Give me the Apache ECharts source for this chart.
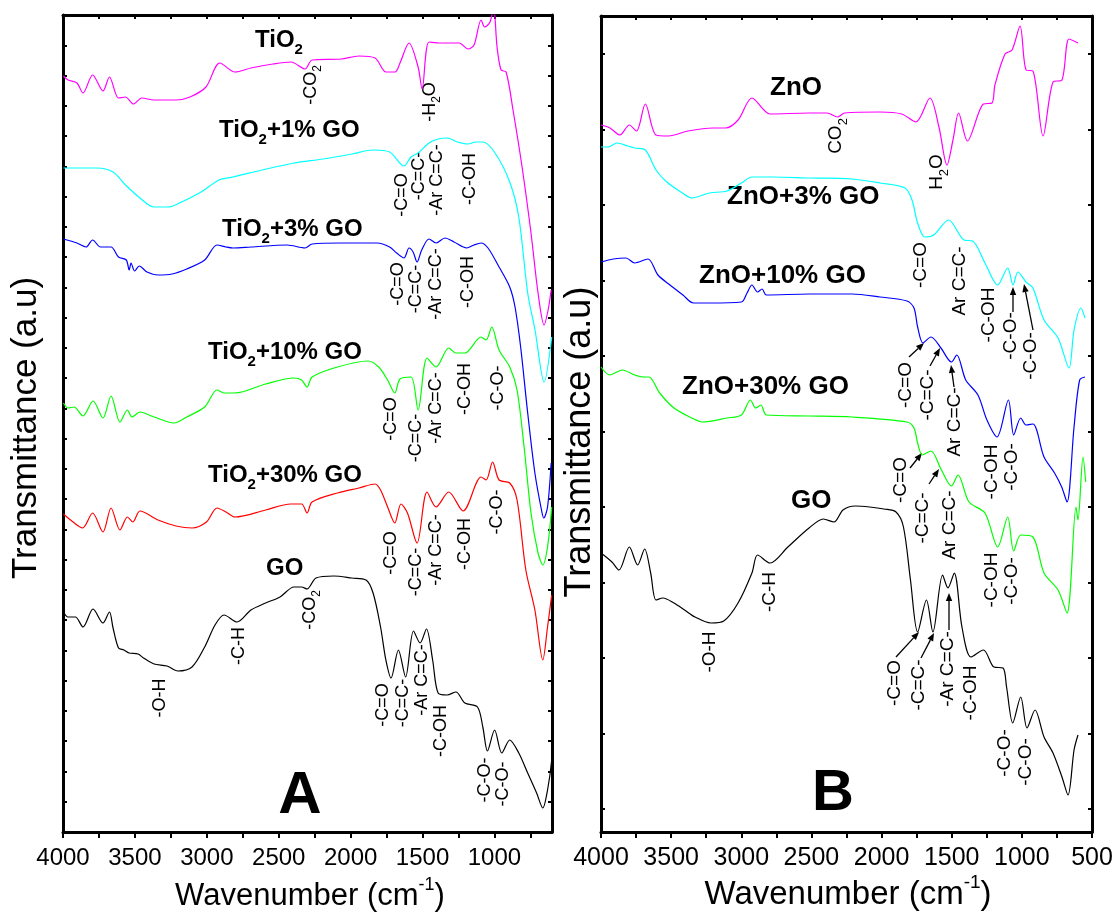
<!DOCTYPE html>
<html>
<head>
<meta charset="utf-8">
<script src="https://cdn.jsdelivr.net/npm/echarts@6/dist/echarts.min.js"></script>
<style>html,body{margin:0;padding:0;background:#fff;}#c{width:1117px;height:917px;}</style>
</head>
<body>
<div id="c"></div>
<script>
// ---------- Panel A data: [wavenumber (cm-1), transmittance (a.u., offset)] ----------
const aTiO2 = [[3997,75.6],[3965,75.2],[3903,74.9],[3861,73.9],[3794,75.7],[3722,74.1],[3677,75.5],[3614,73.4],[3565,73.5],[3510,72.8],[3452,73.4],[3367,73.2],[3214,73.2],[3117,73.5],[3006,74.5],[2910,76.9],[2804,76.0],[2693,76.4],[2540,76.8],[2414,77.0],[2317,76.3],[2268,77.2],[2067,77.3],[1942,77.6],[1830,77.4],[1754,76.0],[1691,76.0],[1657,76.9],[1594,78.9],[1531,76.5],[1503,74.3],[1455,79.0],[1378,78.9],[1246,78.9],[1184,78.3],[1142,78.7],[1093,81.2],[1068,80.5],[1031,81.0],[1006,82.5],[982,78.5],[954,76.2],[919,76.0],[871,72.2],[808,66.5],[746,59.9],[697,53.9],[655,50.7],[627,52.2],[606,54.2]];
const aTiO2GO1 = [[3997,66.4],[3864,66.4],[3764,66.4],[3652,66.0],[3565,64.7],[3465,63.4],[3367,62.5],[3265,62.5],[3190,62.9],[3040,64.0],[2915,65.2],[2818,65.5],[2616,66.2],[2394,66.9],[2192,67.3],[1990,67.8],[1844,68.2],[1729,68.0],[1629,66.6],[1580,67.5],[1531,67.9],[1455,68.9],[1392,69.3],[1330,69.4],[1256,69.0],[1184,68.8],[1131,69.0],[1081,69.0],[996,67.9],[894,65.0],[831,61.5],[769,53.9],[718,50.2],[655,45.0],[602,49.5]];
const aTiO2GO3 = [[3997,59.3],[3903,58.9],[3840,58.5],[3794,59.2],[3739,58.5],[3666,58.5],[3614,57.5],[3560,57.2],[3540,56.2],[3527,56.9],[3502,56.1],[3470,56.6],[3416,56.0],[3339,55.7],[3242,55.8],[3140,56.3],[3015,57.2],[2929,58.7],[2867,58.5],[2818,58.4],[2693,58.5],[2442,58.7],[2317,58.4],[2268,58.8],[2067,58.9],[1816,58.9],[1729,58.5],[1680,57.9],[1629,57.4],[1594,58.4],[1566,58.0],[1538,57.0],[1506,58.2],[1455,59.3],[1406,58.9],[1344,59.4],[1281,59.0],[1193,58.4],[1143,58.7],[1093,58.9],[1045,58.4],[968,56.5],[894,54.5],[857,52.5],[818,48.5],[769,41.9],[719,35.9],[669,31.9],[657,31.4],[631,32.5],[606,36.9]];
const aTiO2GO10 = [[3997,42.9],[3965,42.4],[3923,42.5],[3861,41.6],[3791,43.1],[3722,41.4],[3666,43.6],[3604,41.0],[3552,42.2],[3520,41.5],[3465,42.0],[3367,41.5],[3228,40.9],[3140,41.5],[3015,42.5],[2929,44.2],[2880,43.9],[2804,43.9],[2591,44.8],[2394,45.4],[2341,45.2],[2303,44.5],[2268,45.5],[2092,46.5],[1879,47.1],[1805,46.5],[1743,45.2],[1693,43.9],[1657,45.3],[1580,45.5],[1531,42.2],[1469,47.4],[1406,46.5],[1318,48.4],[1268,47.9],[1206,47.9],[1093,49.5],[1058,49.2],[1019,50.5],[968,48.2],[894,46.5],[843,44.2],[794,38.5],[746,31.9],[697,27.9],[664,26.7],[631,28.5],[602,32.5]];
const aTiO2GO30 = [[3997,31.8],[3939,31.1],[3864,30.4],[3794,31.9],[3722,30.0],[3666,32.4],[3604,30.2],[3552,31.5],[3515,31.0],[3465,32.1],[3339,31.2],[3214,30.6],[3103,30.4],[3003,31.0],[2929,32.4],[2867,32.0],[2804,31.5],[2591,32.2],[2417,32.8],[2341,32.8],[2303,31.9],[2268,33.0],[2092,33.9],[1942,34.4],[1830,34.8],[1792,34.2],[1743,32.5],[1693,30.9],[1650,32.8],[1605,31.9],[1538,28.9],[1469,34.0],[1406,32.5],[1318,34.0],[1218,32.1],[1093,35.5],[1058,35.2],[1013,37.0],[968,35.2],[894,34.9],[843,33.2],[782,26.2],[719,22.2],[664,17.2],[631,20.5],[602,23.7]];
const aGO = [[3997,22.0],[3965,21.5],[3914,21.5],[3861,20.5],[3791,22.3],[3722,20.9],[3677,22.0],[3652,20.4],[3614,18.4],[3577,18.2],[3541,17.9],[3478,17.8],[3440,17.4],[3367,16.8],[3277,16.6],[3202,16.1],[3103,16.5],[3015,18.5],[2943,20.7],[2880,21.7],[2790,21.0],[2693,22.2],[2591,22.9],[2491,23.5],[2394,24.5],[2341,24.5],[2303,24.3],[2241,25.4],[2117,25.6],[1992,25.4],[1893,25.2],[1844,23.9],[1792,20.5],[1755,17.2],[1719,15.4],[1668,18.2],[1618,15.5],[1563,20.1],[1517,18.9],[1473,20.3],[1430,17.2],[1392,13.9],[1330,13.7],[1268,14.0],[1206,12.9],[1118,12.5],[1081,10.5],[1049,8.1],[999,10.2],[949,7.9],[894,9.2],[831,7.9],[769,5.9],[707,3.9],[664,2.4],[631,4.2],[602,7.2]];

// ---------- Panel B data ----------
const bZnO = [[4000,70.7],[3936,70.4],[3865,69.7],[3798,70.7],[3747,70.1],[3684,72.8],[3608,69.7],[3519,69.6],[3380,70.1],[3202,70.4],[3113,70.4],[3023,71.2],[2924,73.4],[2795,71.8],[2517,71.9],[2389,71.9],[2313,71.5],[2263,71.9],[2011,72.0],[1857,71.8],[1755,71.0],[1655,73.4],[1591,70.5],[1534,66.7],[1491,69.2],[1451,71.9],[1388,69.1],[1274,72.8],[1213,72.9],[1192,74.7],[1120,77.8],[1070,78.2],[1013,80.6],[970,76.2],[921,76.1],[849,69.6],[778,75.0],[714,75.2],[664,79.3],[600,78.9]];
const bZnOGO3 = [[4000,68.5],[3950,68.5],[3886,68.9],[3810,68.6],[3760,68.4],[3684,68.2],[3608,66.2],[3531,65.0],[3430,64.0],[3353,63.4],[3227,63.9],[3102,64.1],[2999,64.9],[2924,65.5],[2770,65.5],[2517,65.4],[2212,65.3],[2011,64.9],[1833,64.4],[1783,63.2],[1743,60.9],[1692,59.5],[1628,59.7],[1522,61.2],[1413,59.2],[1350,59.1],[1263,56.9],[1172,54.7],[1101,56.4],[1063,54.7],[1028,56.0],[970,55.0],[921,54.4],[842,51.2],[742,49.4],[664,46.4],[628,50.2],[579,52.4],[550,51.4]];
const bZnOGO10 = [[4000,57.0],[3912,57.3],[3822,57.4],[3760,56.9],[3665,57.3],[3594,55.7],[3508,54.7],[3416,53.7],[3341,52.9],[3227,52.9],[2999,53.0],[2959,53.9],[2924,54.7],[2884,54.0],[2852,54.3],[2821,53.7],[2517,53.8],[2212,53.8],[2011,53.5],[1819,53.1],[1769,52.4],[1743,50.5],[1705,48.9],[1648,49.5],[1577,48.4],[1502,47.0],[1464,47.7],[1400,45.2],[1313,43.7],[1249,41.2],[1177,39.5],[1096,43.2],[1058,39.7],[1008,41.4],[970,40.7],[921,40.8],[842,37.5],[767,35.9],[716,34.5],[678,33.0],[628,40.5],[588,45.2],[550,45.5]];
const bZnOGO30 = [[4000,46.5],[3937,45.7],[3848,46.2],[3760,45.7],[3696,45.5],[3658,45.5],[3582,43.9],[3480,42.4],[3353,41.4],[3278,41.0],[3102,41.4],[2999,41.7],[2935,43.2],[2897,42.4],[2860,42.7],[2821,41.7],[2517,41.6],[2212,41.5],[1819,41.0],[1769,40.4],[1743,38.9],[1710,37.7],[1648,38.1],[1577,36.3],[1502,34.6],[1455,35.7],[1377,33.0],[1263,31.9],[1172,28.5],[1101,31.5],[1058,28.1],[1008,29.7],[921,29.5],[842,25.9],[742,24.2],[678,21.9],[614,32.5],[600,31.2],[564,37.5],[545,35.0]];
const bGO = [[4000,27.9],[3922,27.0],[3872,26.2],[3798,28.5],[3739,26.7],[3689,28.3],[3646,25.9],[3608,23.2],[3558,23.4],[3480,22.9],[3404,22.2],[3330,21.5],[3216,20.9],[3125,21.1],[3023,22.9],[2924,25.9],[2884,27.7],[2795,26.9],[2668,28.5],[2517,30.4],[2415,31.3],[2339,31.0],[2275,32.2],[2187,32.6],[2085,32.5],[1983,32.3],[1897,32.0],[1844,30.5],[1794,25.2],[1743,20.0],[1680,23.2],[1634,20.0],[1565,25.7],[1527,24.4],[1482,25.9],[1427,20.5],[1363,17.5],[1274,18.2],[1199,16.5],[1134,16.4],[1109,14.5],[1065,10.9],[1008,13.5],[963,10.4],[906,12.2],[842,9.5],[778,7.9],[714,5.5],[671,3.7],[628,8.2],[600,9.7]];

// ---------- axis ticks / labels ----------
const aXTicks = [4000,3750,3500,3250,3000,2750,2500,2250,2000,1750,1500,1250,1000,750];
const aXLabels = [4000,3500,3000,2500,2000,1500,1000];
const bXTicks = [4000,3750,3500,3250,3000,2750,2500,2250,2000,1750,1500,1250,1000,750,500];
const bXLabels = [4000,3500,3000,2500,2000,1500,1000,500];
const aYMax = 81.7, bYMax = 81.6;
const aYTicks = []; for (let k = 1; k < 27; k++) aYTicks.push(+(k * aYMax / 27).toFixed(3));
const bYTicks = []; for (let k = 0; k <= 10; k++) bYTicks.push(+(2.3 + k * 7.55).toFixed(3));

// ---------- text ----------
const seriesLabelsA = [
  ['{b|TiO}{bs|2}', 255, 40],
  ['{b|TiO}{bs|2}{b|+1% GO}', 219, 130],
  ['{b|TiO}{bs|2}{b|+3% GO}', 222, 229],
  ['{b|TiO}{bs|2}{b|+10% GO}', 208, 352],
  ['{b|TiO}{bs|2}{b|+30% GO}', 208, 475],
  ['{b|GO}', 266, 568]
];
const seriesLabelsB = [
  ['{B|ZnO}', 770, 88],
  ['{B|ZnO+3% GO}', 727, 197],
  ['{B|ZnO+10% GO}', 699, 276],
  ['{B|ZnO+30% GO}', 682, 387],
  ['{B|GO}', 791, 501]
];
const bandsA = [
  ['{n|-CO}{s|2}', 311, 85], ['{n|-H}{s|2}{n|O}', 430, 102],
  ['{n|-C=O}', 402, 195], ['{n|-C=C-}', 419, 176], ['{n|-Ar C=C-}', 437, 180], ['{n|-C-OH}', 470, 179],
  ['{n|-C=O}', 398, 284], ['{n|-C=C-}', 416, 289], ['{n|-Ar C=C-}', 436, 284], ['{n|-C-OH}', 468, 282],
  ['{n|-C=O}', 391, 419], ['{n|-C=C-}', 416, 438], ['{n|-Ar C=C-}', 436, 408], ['{n|-C-OH}', 465, 389], ['{n|-C-O-}', 498, 388],
  ['{n|-C=O}', 391, 553], ['{n|-C=C-}', 416, 572], ['{n|-Ar C=C-}', 436, 550], ['{n|-C-OH}', 465, 544], ['{n|-C-O-}', 497, 512],
  ['{n|-O-H}', 160, 698], ['{n|-C-H}', 239, 646], ['{n|-CO}{s|2}', 310, 610], ['{n|-C=O}', 383, 705], ['{n|-C=C-}', 403, 703],
  ['{n|-Ar C=C-}', 422, 680], ['{n|-C-OH}', 441, 731], ['{n|-C-O-}', 485, 780], ['{n|-C-O-}', 503, 784]
];
const bandsB = [
  ['{m|CO}{t|2}', 836, 136], ['{m|H}{t|2}{m|O}', 937, 172],
  ['{m|-C=O}', 921, 265], ['{m|Ar C=C-}', 960, 281], ['{m|-C-OH}', 989, 315], ['{m|-C-O-}', 1011, 336], ['{m|-C-O-}', 1031, 356],
  ['{m|-C=O}', 906, 385], ['{m|-C=C-}', 928, 395], ['{m|Ar C=C-}', 955, 422], ['{m|-C-OH}', 992, 472], ['{m|-C-O-}', 1012, 467],
  ['{m|-C=O}', 901, 480], ['{m|-C=C-}', 923, 518], ['{m|Ar C=C-}', 950, 525], ['{m|-C-OH}', 992, 580], ['{m|-C-O-}', 1012, 581],
  ['{m|-O-H}', 710, 652], ['{m|-C-H}', 770, 592], ['{m|-C=O}', 895, 683], ['{m|-C=C-}', 919, 685], ['{m|-Ar C=C-}', 948, 669],
  ['{m|-C-OH}', 971, 693], ['{m|-C-O-}', 1005, 753], ['{m|-C-O-}', 1026, 762]
];
const arrowsB = [
  [1013,312,1013,287],[1033,330,1024,284],
  [909,357,924,343],[930,366,940,348],[954,387,951,365],
  [910,468,922,453],[929,484,939,469],
  [896,657,919,632],[921,658,934,633],[949,630,949,593]
];

const FONT = "'Liberation Sans', Arial, Helvetica, sans-serif";
const rich = {
  b: {fontSize: 24, fontWeight: 'bold', fontFamily: FONT, fill: '#000'},
  bs: {fontSize: 15, fontWeight: 'bold', fontFamily: FONT, fill: '#000', padding: [20, 0, 0, 0]},
  B: {fontSize: 26, fontWeight: 'bold', fontFamily: FONT, fill: '#000'},
  n: {fontSize: 18, fontFamily: FONT, fill: '#000'},
  s: {fontSize: 12, fontFamily: FONT, fill: '#000', padding: [14, 0, 0, 0]},
  m: {fontSize: 19, fontFamily: FONT, fill: '#000'},
  t: {fontSize: 13, fontFamily: FONT, fill: '#000', padding: [14, 0, 0, 0]},
  w: {fontSize: 31, fontFamily: FONT, fill: '#000'},
  wp: {fontSize: 18, fontFamily: FONT, fill: '#000', padding: [0, 0, 22, 0]},
  W: {fontSize: 33, fontFamily: FONT, fill: '#000'},
  WP: {fontSize: 19, fontFamily: FONT, fill: '#000', padding: [0, 0, 24, 0]}
};

const graphic = [];
seriesLabelsA.concat(seriesLabelsB).forEach(([t, x, y]) => {
  graphic.push({type: 'text', x: x, y: y, silent: true, style: {text: t, rich: rich, align: 'left', verticalAlign: 'middle'}});
});
bandsA.concat(bandsB).forEach(([t, x, y]) => {
  graphic.push({type: 'text', x: x, y: y, rotation: Math.PI / 2, silent: true, style: {text: t, rich: rich, align: 'center', verticalAlign: 'middle'}});
});
arrowsB.forEach(([x1, y1, x2, y2]) => {
  const dx = x2 - x1, dy = y2 - y1, L = Math.sqrt(dx * dx + dy * dy);
  const ux = dx / L, uy = dy / L, hl = 8, hw = 3.2;
  const bx = x2 - ux * hl, by = y2 - uy * hl;
  graphic.push({type: 'line', silent: true, shape: {x1: x1, y1: y1, x2: bx, y2: by}, style: {stroke: '#000', lineWidth: 1.3}});
  graphic.push({type: 'polygon', silent: true, shape: {points: [[x2, y2], [bx - uy * hw, by + ux * hw], [bx + uy * hw, by - ux * hw]]}, style: {fill: '#000'}});
});
// axis titles and panel letters
graphic.push({type: 'text', x: 26, y: 428, rotation: Math.PI / 2, silent: true, style: {text: 'Transmittance (a.u)', fontSize: 35, fontFamily: FONT, fill: '#000', align: 'center', verticalAlign: 'middle'}});
graphic.push({type: 'text', x: 580, y: 442, rotation: Math.PI / 2, silent: true, style: {text: 'Transmittance (a.u)', fontSize: 36, fontFamily: FONT, fill: '#000', align: 'center', verticalAlign: 'middle'}});
graphic.push({type: 'text', x: 310, y: 896, silent: true, style: {text: '{w|Wavenumber (cm}{wp|-1}{w|)}', rich: rich, align: 'center', verticalAlign: 'middle'}});
graphic.push({type: 'text', x: 848, y: 895, silent: true, style: {text: '{W|Wavenumber (cm}{WP|-1}{W|)}', rich: rich, align: 'center', verticalAlign: 'middle'}});
graphic.push({type: 'text', x: 300, y: 796, silent: true, style: {text: 'A', fontSize: 60, fontWeight: 'bold', fontFamily: FONT, fill: '#000', align: 'center', verticalAlign: 'middle'}});
graphic.push({type: 'text', x: 833, y: 794, silent: true, style: {text: 'B', fontSize: 58, fontWeight: 'bold', fontFamily: FONT, fill: '#000', align: 'center', verticalAlign: 'middle'}});

function xAx(grid, min, ticks, labels, pos, fs) {
  return {
    gridIndex: grid, type: 'value', min: min, max: 4000, inverse: true, position: pos,
    axisLine: {show: true, onZero: false, lineStyle: {color: '#000', width: 3}},
    axisTick: {show: true, inside: pos === 'top', length: pos === 'top' ? 4 : 6, customValues: ticks, lineStyle: {color: '#000', width: 2}},
    axisLabel: pos === 'top' ? {show: false} : {show: true, customValues: labels, formatter: v => String(v), color: '#000', fontSize: fs, fontFamily: FONT, margin: 14},
    splitLine: {show: false}
  };
}
function yAx(grid, max, ticks, pos) {
  return {
    gridIndex: grid, type: 'value', min: 0, max: max, position: pos,
    axisLine: {show: true, onZero: false, lineStyle: {color: '#000', width: 3}},
    axisTick: {show: true, inside: true, length: 4, customValues: ticks, lineStyle: {color: '#000', width: 2}},
    axisLabel: {show: false}, splitLine: {show: false}
  };
}
function line(data, color, xi, yi) {
  return {type: 'line', data: data, xAxisIndex: xi, yAxisIndex: yi, showSymbol: false, symbol: 'none', smooth: 0.3,
    lineStyle: {color: color, width: 1.2}, silent: true, clip: true, z: 3};
}

const chart = echarts.init(document.getElementById('c'), null, {renderer: 'canvas'});
chart.setOption({
  animation: false,
  backgroundColor: '#fff',
  grid: [
    {left: 63, top: 15, width: 489, height: 817},
    {left: 601, top: 16, width: 491, height: 816}
  ],
  xAxis: [
    xAx(0, 600, aXTicks, aXLabels, 'bottom', 24),
    xAx(0, 600, aXTicks, aXLabels, 'top', 24),
    xAx(1, 500, bXTicks, bXLabels, 'bottom', 25),
    xAx(1, 500, bXTicks, bXLabels, 'top', 25)
  ],
  yAxis: [
    yAx(0, aYMax, aYTicks, 'left'),
    yAx(0, aYMax, aYTicks, 'right'),
    yAx(1, bYMax, bYTicks, 'left'),
    yAx(1, bYMax, bYTicks, 'right')
  ],
  series: [
    line(aTiO2, '#ff00ff', 0, 0),
    line(aTiO2GO1, '#00ffff', 0, 0),
    line(aTiO2GO3, '#0000ff', 0, 0),
    line(aTiO2GO10, '#00ff00', 0, 0),
    line(aTiO2GO30, '#ff0000', 0, 0),
    line(aGO, '#000000', 0, 0),
    line(bZnO, '#ff00ff', 2, 2),
    line(bZnOGO3, '#00ffff', 2, 2),
    line(bZnOGO10, '#0000ff', 2, 2),
    line(bZnOGO30, '#00ff00', 2, 2),
    line(bGO, '#000000', 2, 2)
  ],
  graphic: graphic
});
</script>
</body>
</html>
